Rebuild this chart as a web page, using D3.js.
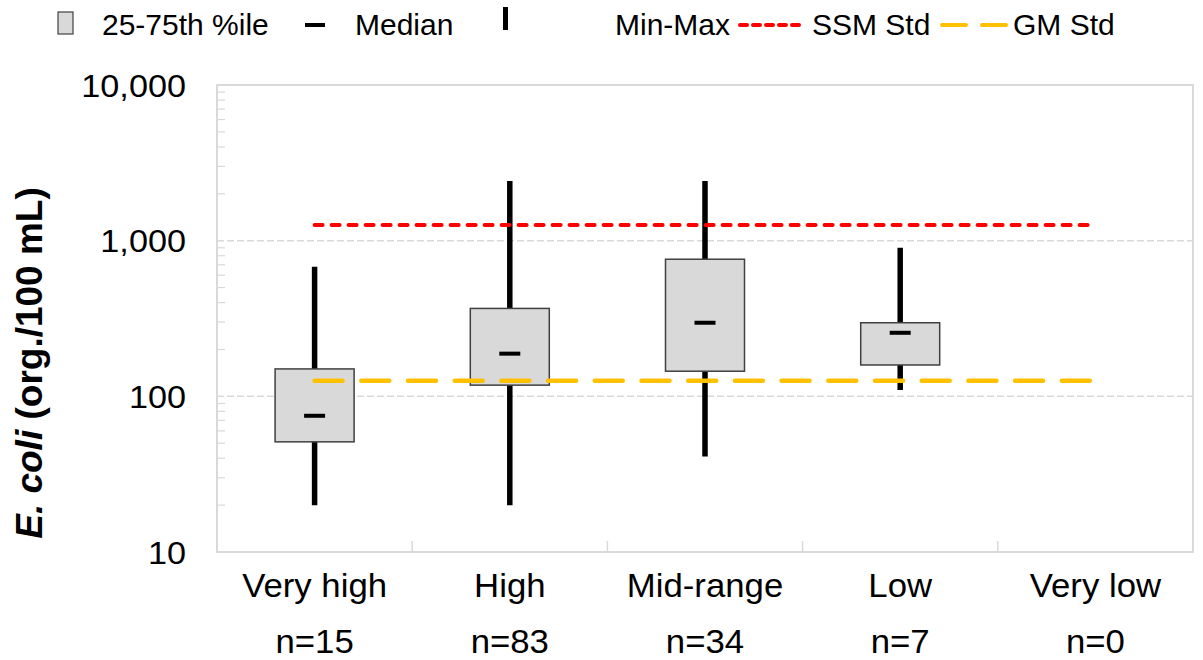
<!DOCTYPE html>
<html>
<head>
<meta charset="utf-8">
<script src="https://cdn.jsdelivr.net/npm/d3@7"></script>
<style>
  html, body { margin: 0; padding: 0; background: #fff; }
  svg { display: block; font-family: Arial, "Liberation Sans", sans-serif; }
</style>
</head>
<body>
<svg id="chart" width="1203" height="660"></svg>
<script>
// Categories and sample counts
const categories = ["Very high", "High", "Mid-range", "Low", "Very low"];
const counts = [15, 83, 34, 7, 0];

// Box statistics per category (org./100 mL); "Very low" has no samples
const q1Values = [51, 118, 145, 159, null];
const q3Values = [150, 367, 760, 297, null];
const medianValues = [75, 188, 297, 256, null];
const minValues = [20, 20, 41, 110, null];
const maxValues = [680, 2420, 2420, 900, null];

// Water quality standards
const ssmStd = 1260;
const gmStd = 126;

// Y-axis ticks
const yTicks = [10, 100, 1000, 10000];

const svg = d3.select("#chart");
const margin = { left: 217, right: 1193, top: 85, bottom: 552 };
const SX = 1.07; // horizontal text stretch

const x = d3.scaleBand().domain(categories).range([margin.left, margin.right]);
const y = d3.scaleLog().domain([10, 10000]).range([margin.bottom, margin.top]);
const cx = c => x(c) + x.bandwidth() / 2;

const stretchedText = (g, px, py, str, anchor, size, sx) => {
  return g.append("text")
    .attr("transform", `translate(${px},${py}) scale(${sx || SX},1)`)
    .attr("text-anchor", anchor)
    .attr("font-size", size)
    .attr("fill", "#000")
    .text(str);
};

// Gridlines at the inner decades
const grid = svg.append("g");
grid.selectAll("line").data([100, 1000]).join("line")
  .attr("x1", margin.left).attr("x2", margin.right)
  .attr("y1", d => y(d)).attr("y2", d => y(d))
  .attr("stroke", "#d9d9d9").attr("stroke-width", 1.5)
  .attr("stroke-dasharray", "7,3");

// Plot frame
svg.append("rect")
  .attr("x", margin.left).attr("y", margin.top)
  .attr("width", margin.right - margin.left)
  .attr("height", margin.bottom - margin.top)
  .attr("fill", "none").attr("stroke", "#d9d9d9").attr("stroke-width", 2);

// Minor log ticks on the left axis
const minor = [];
[10, 100, 1000].forEach(dec => { for (let k = 2; k <= 9; k++) minor.push(dec * k); });
svg.append("g").selectAll("line").data(minor).join("line")
  .attr("x1", margin.left).attr("x2", margin.left + 8)
  .attr("y1", d => y(d)).attr("y2", d => y(d))
  .attr("stroke", "#d9d9d9").attr("stroke-width", 1.2);

// Category separators along the bottom
svg.append("g").selectAll("line").data(categories.slice(1)).join("line")
  .attr("x1", d => x(d)).attr("x2", d => x(d))
  .attr("y1", margin.bottom).attr("y2", margin.bottom - 11)
  .attr("stroke", "#d9d9d9").attr("stroke-width", 1.5);

// Y tick labels
const yl = svg.append("g");
yTicks.forEach(t => {
  stretchedText(yl, 186, y(t) + 11.5, d3.format(",")(t), "end", 32);
});

// Y-axis title
const yt = svg.append("text")
  .attr("transform", `translate(42,${363}) rotate(-90)`)
  .attr("text-anchor", "middle")
  .attr("font-size", 37)
  .attr("font-weight", "bold");
yt.append("tspan").attr("font-style", "italic").text("E. coli");
yt.append("tspan").text(" (org./100 mL)");

// Category and count labels
const xl = svg.append("g");
categories.forEach((c, i) => {
  stretchedText(xl, cx(c), 597, c, "middle", 32.5);
  stretchedText(xl, cx(c), 653, "n=" + counts[i], "middle", 32.5);
});

// Box plots
const stats = categories.map((c, i) => ({
  c, q1: q1Values[i], q3: q3Values[i], med: medianValues[i], min: minValues[i], max: maxValues[i]
})).filter(d => d.med !== null);

const boxW = 79;
const marks = svg.append("g");
marks.selectAll("line.whisker").data(stats).join("line")
  .attr("class", "whisker")
  .attr("x1", d => cx(d.c)).attr("x2", d => cx(d.c))
  .attr("y1", d => y(d.min)).attr("y2", d => y(d.max))
  .attr("stroke", "#000").attr("stroke-width", 5.5);

marks.selectAll("rect.box").data(stats).join("rect")
  .attr("class", "box")
  .attr("x", d => cx(d.c) - boxW / 2).attr("width", boxW)
  .attr("y", d => y(d.q3)).attr("height", d => y(d.q1) - y(d.q3))
  .attr("fill", "#d9d9d9").attr("stroke", "#404040").attr("stroke-width", 1.5);

marks.selectAll("line.median").data(stats).join("line")
  .attr("class", "median")
  .attr("x1", d => cx(d.c) - 10.5).attr("x2", d => cx(d.c) + 10.5)
  .attr("y1", d => y(d.med)).attr("y2", d => y(d.med))
  .attr("stroke", "#000").attr("stroke-width", 4);

// Standard lines
const x0 = cx(categories[0]), x1 = cx(categories[categories.length - 1]);
svg.append("line")
  .attr("x1", x0).attr("x2", x1).attr("y1", y(ssmStd)).attr("y2", y(ssmStd))
  .attr("stroke", "#ff0000").attr("stroke-width", 4)
  .attr("stroke-linecap", "round").attr("stroke-dasharray", "8,9");
svg.append("line")
  .attr("x1", x0).attr("x2", x1).attr("y1", y(gmStd)).attr("y2", y(gmStd))
  .attr("stroke", "#ffc000").attr("stroke-width", 4.5)
  .attr("stroke-linecap", "round").attr("stroke-dasharray", "28,18.7");

// Legend
const lg = svg.append("g");
lg.append("rect").attr("x", 58).attr("y", 12).attr("width", 15).attr("height", 22)
  .attr("fill", "#d9d9d9").attr("stroke", "#404040").attr("stroke-width", 1.2);
stretchedText(lg, 102, 35, "25-75th %ile", "start", 30, 1.0);
lg.append("line").attr("x1", 305).attr("x2", 325).attr("y1", 25).attr("y2", 25)
  .attr("stroke", "#000").attr("stroke-width", 4);
stretchedText(lg, 355, 35, "Median", "start", 30, 1.0);
lg.append("line").attr("x1", 505.5).attr("x2", 505.5).attr("y1", 7).attr("y2", 30)
  .attr("stroke", "#000").attr("stroke-width", 5);
stretchedText(lg, 615, 35, "Min-Max", "start", 30, 1.0);
lg.append("line").attr("x1", 740).attr("x2", 803).attr("y1", 25).attr("y2", 25)
  .attr("stroke", "#ff0000").attr("stroke-width", 4)
  .attr("stroke-linecap", "round").attr("stroke-dasharray", "7,6");
stretchedText(lg, 812, 35, "SSM Std", "start", 30, 1.0);
lg.append("line").attr("x1", 942).attr("x2", 1006).attr("y1", 25).attr("y2", 25)
  .attr("stroke", "#ffc000").attr("stroke-width", 4)
  .attr("stroke-linecap", "round").attr("stroke-dasharray", "24,16");
stretchedText(lg, 1013, 35, "GM Std", "start", 30, 1.0);
</script>
</body>
</html>
